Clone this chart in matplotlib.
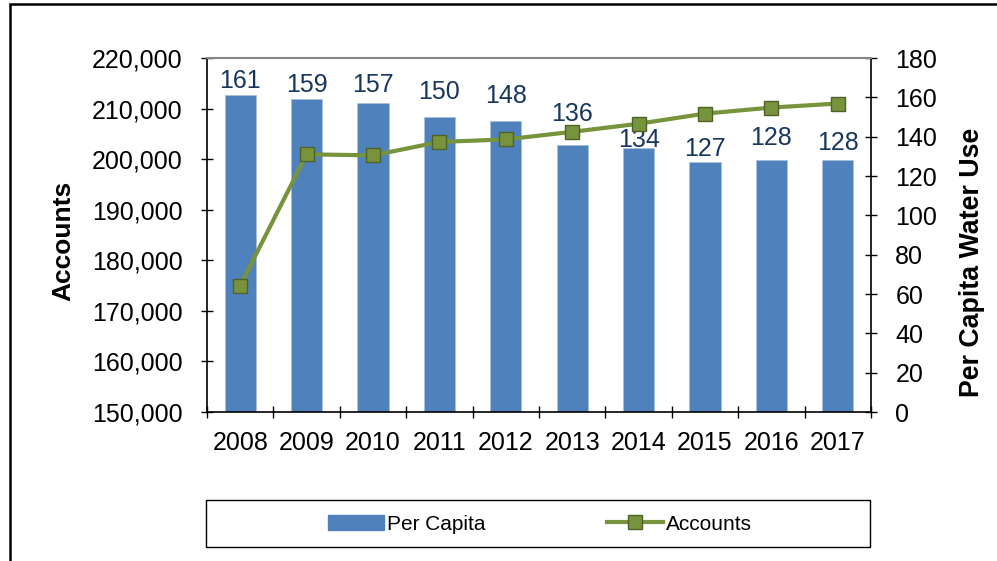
import matplotlib
matplotlib.use("Agg")
import matplotlib.pyplot as plt
from matplotlib.patches import Rectangle, Patch
from matplotlib.lines import Line2D
from matplotlib.ticker import FuncFormatter

years = ["2008", "2009", "2010", "2011", "2012", "2013", "2014", "2015", "2016", "2017"]
per_capita = [161, 159, 157, 150, 148, 136, 134, 127, 128, 128]
accounts = [175000, 200950, 200750, 203400, 203900, 205400, 207000, 209000, 210200, 211000]

# label offsets above bar top (pixels)
label_offsets_px = [14, 14, 18.7, 25, 24.7, 30.3, 8, 13.3, 22, 17]

plt.rcParams['font.family'] = ['Liberation Sans', 'DejaVu Sans']

W, H = 997, 561
fig = plt.figure(figsize=(W / 100, H / 100), dpi=100)

L, R, T, B = 207, 871, 58, 412
ax = fig.add_axes([L / W, 1 - B / H, (R - L) / W, (B - T) / H])
ax2 = ax.twinx()

x = list(range(len(years)))
bar_color = "#4F81BD"
line_color = "#77933C"

bars = ax2.bar(x, per_capita, width=0.47, color=bar_color, edgecolor="#A7BFDE", linewidth=0.6)
ax2.set_ylim(0, 180)
ax2.set_yticks(range(0, 181, 20))

for xi, v, off in zip(x, per_capita, label_offsets_px):
    ax2.annotate(str(v), (xi, v), xytext=(0, off * 0.72), textcoords="offset points",
                 ha="center", va="center", fontsize=18, color="#17375E")

ax.plot(x, accounts, color=line_color, linewidth=3, marker="s", markersize=10,
        markerfacecolor=line_color, markeredgecolor="#4F6228", markeredgewidth=1, zorder=5)
ax.set_ylim(150000, 220000)
ax.set_yticks(range(150000, 220001, 10000))
ax.yaxis.set_major_formatter(FuncFormatter(lambda v, p: f"{int(v):,}"))
ax.set_xlim(-0.5, len(years) - 0.5)
ax.set_xticks([i + 0.5 for i in range(-1, len(years))], minor=False)
ax.set_xticklabels([])
ax.set_xticks(x, minor=True)
ax.set_xticklabels(years, minor=True)

ax.set_zorder(ax2.get_zorder() + 1)
ax.patch.set_visible(False)

ax.tick_params(axis="y", which="major", direction="inout", length=9, width=1, labelsize=18, pad=13, colors="black")
ax.tick_params(axis="x", which="major", direction="inout", length=9, width=1)
ax.tick_params(axis="x", which="minor", length=0, labelsize=18, pad=14)
ax2.tick_params(axis="y", direction="inout", length=9, width=1, labelsize=18, pad=13)

for s in ["left", "bottom"]:
    ax.spines[s].set_color("black")
    ax.spines[s].set_linewidth(1.2)
ax.spines["top"].set_color("#868686")
ax.spines["top"].set_linewidth(1.5)
ax.spines["right"].set_visible(False)
ax2.spines["right"].set_color("black")
ax2.spines["right"].set_linewidth(1.2)
for s in ["left", "top", "bottom"]:
    ax2.spines[s].set_visible(False)

fig.text(63 / W, 1 - 241 / H, "Accounts", rotation=90, ha="center", va="center",
         fontsize=19, fontweight="bold")
fig.text(972 / W, 1 - 262 / H, "Per Capita Water Use", rotation=90, ha="center", va="center",
         fontsize=19.3, fontweight="bold")

# legend box
fig.patches.append(Rectangle((206 / W, 1 - 547 / H), (870 - 206) / W, (547 - 500) / H,
                             transform=fig.transFigure, fill=False, edgecolor="black", linewidth=1))
handles = [Patch(facecolor=bar_color, edgecolor=bar_color),
           Line2D([0], [0], color=line_color, linewidth=3, marker="s", markersize=10,
                  markerfacecolor=line_color, markeredgecolor="#4F6228")]
fig.legend(handles, ["Per Capita", "Accounts"], loc="center", bbox_to_anchor=(540 / W, 1 - 524 / H),
           ncol=2, frameon=False, fontsize=15, handlelength=2.7, handletextpad=0.15,
           columnspacing=5.8)

# outer border
fig.patches.append(Rectangle((10 / W, -0.05), 1.1, 1 - 4 / H + 0.05, transform=fig.transFigure,
                             fill=False, edgecolor="black", linewidth=1.8))

fig.savefig("out.png", dpi=100)
